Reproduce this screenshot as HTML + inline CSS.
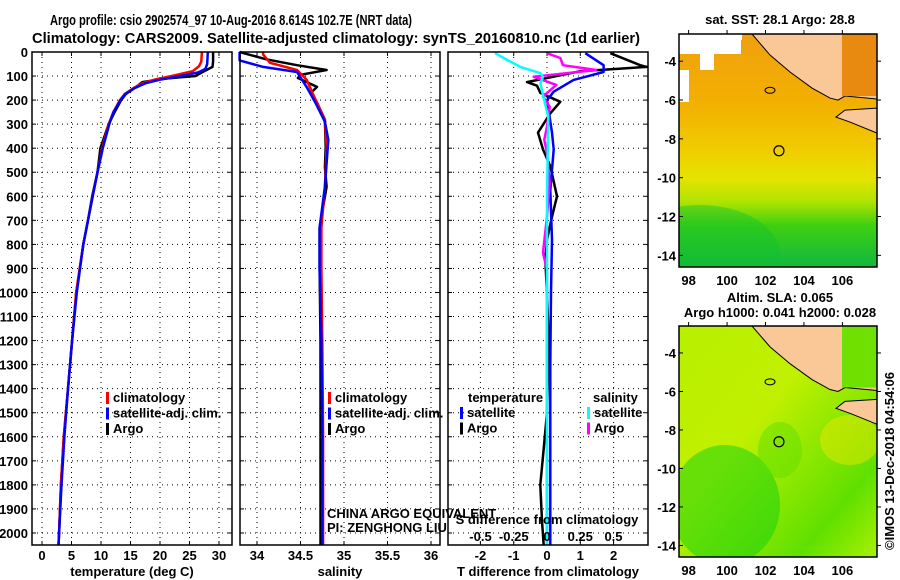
<!DOCTYPE html>
<html><head><meta charset="utf-8"><style>
html,body{margin:0;padding:0;background:#fff;}
svg{display:block;font-family:"Liberation Sans",sans-serif;}
.b{font-weight:bold;font-size:13px;}
.t{font-weight:bold;font-size:14.5px;}
</style></head><body>
<svg id="c" width="900" height="580" viewBox="0 0 900 580">
<defs>
<linearGradient id="sst" x1="0" y1="0" x2="0" y2="1">
<stop offset="0" stop-color="#f0a010"/><stop offset="0.3" stop-color="#f2b000"/><stop offset="0.5" stop-color="#f0cc00"/><stop offset="0.62" stop-color="#e4e400"/><stop offset="0.72" stop-color="#b0e400"/><stop offset="0.82" stop-color="#40d010"/><stop offset="1" stop-color="#10b840"/>
</linearGradient>
<linearGradient id="sla" x1="0" y1="0" x2="1" y2="1">
<stop offset="0" stop-color="#b8f000"/><stop offset="0.4" stop-color="#c0f000"/><stop offset="0.6" stop-color="#90e800"/><stop offset="0.8" stop-color="#60e000"/><stop offset="1" stop-color="#a8f000"/>
</linearGradient>
<clipPath id="mclip1"><rect x="679" y="34" width="198" height="233"/></clipPath>
<clipPath id="mclip2"><rect x="679" y="326" width="198" height="231"/></clipPath>
</defs>
<g id="title">
<text class="t" x="231" y="25" text-anchor="middle" textLength="362" lengthAdjust="spacingAndGlyphs">Argo profile: csio 2902574_97 10-Aug-2016 8.614S 102.7E (NRT data)</text>
<text class="t" x="336" y="43" text-anchor="middle" textLength="608" lengthAdjust="spacingAndGlyphs">Climatology: CARS2009. Satellite-adjusted climatology: synTS_20160810.nc (1d earlier)</text>
</g>
<g id="plots"></g>
<g id="maps"></g>
</svg>
<script>
const depthTicks=[0,100,200,300,400,500,600,700,800,900,1000,1100,1200,1300,1400,1500,1600,1700,1800,1900,2000];
const tTicks=[0,5,10,15,20,25,30];
const sTicks=[34,34.5,35,35.5,36];
const sTickLabels=["34","34.5","35","35.5","36"];
const dtTicks=[-2,-1,0,1,2];
const dsTicks=[-0.5,-0.25,0,0.25,0.5];
const dsTickLabels=["-0.5","-0.25","0","0.25","0.5"];
// temperature profiles [depth, value]
const tempClim=[[0,27.1],[40,27.0],[60,26.6],[80,25.5],[100,22],[115,19],[130,17],[150,15.5],[175,14],[200,13.2],[250,12.1],[300,11.3],[400,10.2],[500,9.4],[600,8.6],[700,7.8],[800,7.0],[1000,5.8],[1200,5.1],[1400,4.4],[1600,3.7],[1800,3.2],[2000,2.9],[2050,2.8]];
const tempSat=[[0,28.1],[50,28.0],[70,27.7],[85,26.5],[100,23.5],[115,20],[130,17.5],[150,15.7],[175,14.1],[200,13.3],[250,12.1],[300,11.4],[400,10.3],[500,9.4],[600,8.6],[700,7.8],[800,7.0],[1000,5.9],[1200,5.1],[1400,4.4],[1600,3.8],[1800,3.3],[2000,2.9],[2050,2.8]];
const tempArgo=[[0,29.0],[40,29.0],[62,28.9],[80,27.5],[100,26],[110,21],[125,17],[150,15.7],[175,14.2],[200,13.4],[250,12.3],[300,11.3],[400,9.9],[500,9.4],[600,8.5],[700,7.8],[800,7.0],[1000,5.8],[1200,5.1],[1400,4.4],[1600,3.7],[1800,3.2],[2000,2.9],[2050,2.8]];
// salinity profiles
const salClim=[[0,34.07],[10,34.07],[45,34.15],[75,34.46],[115,34.57],[180,34.65],[282,34.78],[395,34.8],[560,34.78],[730,34.74],[900,34.74],[1200,34.75],[1600,34.76],[2050,34.76]];
const salSat=[[0,33.8],[35,33.8],[62,34.07],[83,34.46],[145,34.57],[210,34.67],[290,34.78],[365,34.82],[560,34.78],[730,34.72],[900,34.72],[1200,34.74],[1600,34.75],[2050,34.75]];
const salArgo=[[0,33.8],[10,33.9],[30,34.1],[55,34.46],[75,34.8],[95,34.5],[108,34.47],[145,34.69],[170,34.62],[210,34.69],[282,34.78],[395,34.79],[480,34.78],[560,34.8],[730,34.72],[900,34.72],[1200,34.73],[1600,34.73],[2050,34.73]];
// differences
const dTempArgo=[[5,1.9],[55,2.8],[62,3.0],[80,1.0],[125,-0.6],[140,-0.3],[170,-0.2],[207,0.4],[255,0.1],[335,-0.27],[405,-0.12],[475,0.1],[600,0.3],[685,0.15],[780,0],[865,-0.05],[1000,0],[1200,0.05],[1500,0],[1650,-0.1],[1800,-0.2],[1950,-0.15],[2050,-0.1]];
const dTempSat=[[5,1.15],[55,1.7],[83,1.7],[116,0.8],[165,0.2],[200,0],[335,0.15],[405,0.2],[575,0.1],[780,0.15],[1000,0.12],[1300,0.1],[1700,0.1],[2050,0.1]];
const dSalArgo=[[5,0],[25,0.1],[55,0.12],[75,0.37],[103,-0.1],[137,0.07],[185,-0.03],[228,0.02],[310,0],[365,-0.02],[420,0],[545,0.02],[685,0],[835,-0.03],[905,0],[1200,0],[1600,0],[2050,0]];
const dSalSat=[[5,-0.39],[33,-0.3],[62,-0.2],[88,-0.05],[103,-0.03],[130,-0.05],[180,-0.03],[270,0.01],[600,0.0],[1000,0],[1500,0],[2050,0]];
// map ticks
const lonTicks=[98,100,102,104,106];
const latTicks=[-4,-6,-8,-10,-12,-14];
const argoLon=102.7, argoLat=-8.614;

const NS='http://www.w3.org/2000/svg';
function mk(tag,attrs,parent,name){const e=document.createElementNS(NS,tag);for(const k in attrs)e.setAttribute(k,attrs[k]);


parent.appendChild(e);return e;}
function txt(s,x,y,parent,name,anchor,cls,extra){const e=mk('text',Object.assign({x:x,y:y,'text-anchor':anchor||'start','class':cls||'b'},extra||{}),parent,name);e.textContent=s;return e;}
const plots=document.getElementById('plots');
const Y0=52,Y1=545;
const yD=d=>Y0+(d/2050)*(Y1-Y0);

function panel(name,x0,x1,xf,xticks,xlabels,title){
  const g=mk('g',{},plots,name);
  xticks.forEach(v=>{mk('line',{x1:xf(v),x2:xf(v),y1:Y0,y2:Y1,stroke:'#000','stroke-width':1,'stroke-dasharray':'1,4'},g,'grid-vertical');});
  depthTicks.forEach(d=>{mk('line',{x1:x0,x2:x1,y1:yD(d),y2:yD(d),stroke:'#000','stroke-width':1,'stroke-dasharray':'1,4'},g,'grid-horizontal');
    mk('line',{x1:x0,x2:x0+4,y1:yD(d),y2:yD(d),stroke:'#000'},g,'y-tick');mk('line',{x1:x1-4,x2:x1,y1:yD(d),y2:yD(d),stroke:'#000'},g,'y-tick');});
  xticks.forEach((v,i)=>{mk('line',{x1:xf(v),x2:xf(v),y1:Y1-4,y2:Y1,stroke:'#000'},g,'x-tick');mk('line',{x1:xf(v),x2:xf(v),y1:Y0,y2:Y0+4,stroke:'#000'},g,'x-tick');
    txt(xlabels[i],xf(v),560,g,'x-tick-label','middle');});
  txt(title,(x0+x1)/2,576,g,'x-axis-title','middle');
  return g;
}
function line(g,data,xf,color,name,w){
  const pts=data.map(p=>xf(p[1]).toFixed(1)+','+yD(p[0]).toFixed(1)).join(' ');
  mk('polyline',{points:pts,fill:'none',stroke:color,'stroke-width':w||2.5,'stroke-linejoin':'round'},g,name);
}
function frame(g,x0,x1){mk('rect',{x:x0,y:Y0,width:x1-x0,height:Y1-Y0,fill:'none',stroke:'#000','stroke-width':1.5},g,'plot-frame');}
function legend(g,x,y,items){items.forEach((it,i)=>{mk('rect',{x:x,y:y+i*15.5-10,width:3,height:12,fill:it[1]},g,'legend-swatch');txt(it[0],x+7,y+i*15.5,g,'legend-entry');});}

// panel 1
const xT=v=>42+v*5.9;
const p1=panel('temperature-panel',32,232,xT,tTicks,tTicks.map(String),'temperature (deg C)');
depthTicks.forEach(d=>txt(String(d),28,yD(d)+5,p1,'depth-tick-label','end'));
line(p1,tempArgo,xT,'#000','argo-temperature-line');
line(p1,tempClim,xT,'#f00','climatology-temperature-line');
line(p1,tempSat,xT,'#00f','satellite-temperature-line');
legend(p1,106,402,[['climatology','#f00'],['satellite-adj. clim.','#00f'],['Argo','#000']]);
frame(p1,32,232);

// panel 2
const xS=v=>257+(v-34)*87;
const p2=panel('salinity-panel',240,440,xS,sTicks,sTickLabels,'salinity');
line(p2,salArgo,xS,'#000','argo-salinity-line');
line(p2,salClim,xS,'#f00','climatology-salinity-line');
line(p2,salSat,xS,'#00f','satellite-salinity-line');
legend(p2,328,402,[['climatology','#f00'],['satellite-adj. clim.','#00f'],['Argo','#000']]);
txt('CHINA ARGO EQUIVALENT',327,518,p2,'float-owner-text','start','',{'font-size':'12.5'});
txt('PI: ZENGHONG LIU',327,532,p2,'float-pi-text','start','',{'font-size':'12.5'});
frame(p2,240,440);

// panel 3
const xDT=v=>547+v*33.3;
const xDS=v=>547+v*133;
const p3=panel('difference-panel',448,648,xDT,dtTicks,dtTicks.map(String),'T difference from climatology');
line(p3,dTempArgo,xDT,'#000','argo-temperature-difference-line');
line(p3,dTempSat,xDT,'#00f','satellite-temperature-difference-line');
line(p3,dSalArgo,xDS,'#f0f','argo-salinity-difference-line');
line(p3,dSalSat,xDS,'#0ff','satellite-salinity-difference-line');
txt('temperature',468,402,p3,'legend-title-temperature');
legend(p3,460,417,[['satellite','#00f'],['Argo','#000']]);
txt('salinity',593,402,p3,'legend-title-salinity');
legend(p3,587,417,[['satellite','#0ff'],['Argo','#f0f']]);
txt('S difference from climatology',547,524,p3,'secondary-x-axis-title','middle');
dsTicks.forEach((v,i)=>txt(dsTickLabels[i],xDS(v),541,p3,'secondary-x-tick-label','middle'));
frame(p3,448,648);

// maps
const maps=document.getElementById('maps');
const MX0=679,MX1=877,LON0=97.5,LON1=107.8;
const lonX=l=>MX0+(l-LON0)/(LON1-LON0)*(MX1-MX0);
function map(name,y0,y1,fill,titleLines,clip){
  const g=mk('g',{},maps,name);
  const latY=l=>y0+(-2.6-l)/12*(y1-y0);
  const inner=mk('g',{'clip-path':clip},g,'map-content');
  mk('rect',{x:MX0,y:y0,width:MX1-MX0,height:y1-y0,fill:fill},inner,'map-field');
  if(name==='sst-map'){
    [[679,34,62,20],[700,54,14,16],[679,70,10,32],[712,34,30,6]].forEach(r=>mk('rect',{x:r[0],y:r[1],width:r[2],height:r[3],fill:'#fff'},inner,'no-data-patch'));
    mk('ellipse',{cx:700,cy:255,rx:80,ry:50,fill:'#10c030',opacity:0.4},inner,'cool-water');
  } else {
    mk('ellipse',{cx:725,cy:505,rx:55,ry:60,fill:'#10d010',opacity:0.5},inner,'low-sla-region');
    mk('ellipse',{cx:780,cy:450,rx:22,ry:28,fill:'#60e000',opacity:0.5},inner,'argo-sla-region');
    mk('ellipse',{cx:850,cy:440,rx:30,ry:25,fill:'#e8e800',opacity:0.5},inner,'high-sla-region');
  }
  const s=(y1-y0)/12;
  const L=(x,y)=>x+','+(y0+(y-34)*s/19.4);
  mk('polygon',{points:[L(752,34),L(770,55),L(790,72),L(812,88),L(830,98),L(838,100),L(845,96),L(877,99),L(877,34)].join(' '),fill:'#fac896',stroke:'#000','stroke-width':1},inner,'sumatra-land');
  mk('rect',{x:842,y:y0,width:35,height:(62)*s/19.4,fill:fill==='url(#sst)'?'#e88a10':'#70e000'},inner,'java-sea');
  mk('polygon',{points:[L(836,117),L(845,110),L(877,108),L(877,133),L(850,122)].join(' '),fill:'#fac896',stroke:'#000','stroke-width':1},inner,'java-land');
  mk('ellipse',{cx:770,cy:y0+2.9*s,rx:5,ry:3,fill:'none',stroke:'#000'},inner,'island');
  mk('circle',{cx:lonX(argoLon),cy:latY(argoLat),r:5,fill:'none',stroke:'#000','stroke-width':1.2},inner,'argo-location-marker');
  mk('rect',{x:MX0,y:y0,width:MX1-MX0,height:y1-y0,fill:'none',stroke:'#000','stroke-width':1.5},g,'map-frame');
  lonTicks.forEach(l=>{mk('line',{x1:lonX(l),x2:lonX(l),y1:y0-4,y2:y0,stroke:'#000'},g,'lon-tick');
    txt(String(l),lonX(l),y1+18,g,'lon-tick-label','middle');});
  latTicks.forEach(l=>{mk('line',{x1:MX0,x2:MX0+4,y1:latY(l),y2:latY(l),stroke:'#000'},g,'lat-tick');mk('line',{x1:MX1,x2:MX1+4,y1:latY(l),y2:latY(l),stroke:'#000'},g,'lat-tick');
    txt(String(l),676,latY(l)+5,g,'lat-tick-label','end');});
  titleLines.forEach((t,i)=>txt(t[0],780,t[1],g,'map-title','middle'));
}
map('sst-map',34,267,'url(#sst)',[['sat. SST: 28.1 Argo: 28.8',24]],'url(#mclip1)');
map('sla-map',326,557,'url(#sla)',[['Altim. SLA: 0.065',302],['Argo h1000: 0.041 h2000: 0.028',317]],'url(#mclip2)');
txt('©IMOS 13-Dec-2018 04:54:06',894,550,maps,'copyright-timestamp','start','',{'font-size':'12.5',transform:'rotate(-90 894 550)'});
</script>
</body></html>
